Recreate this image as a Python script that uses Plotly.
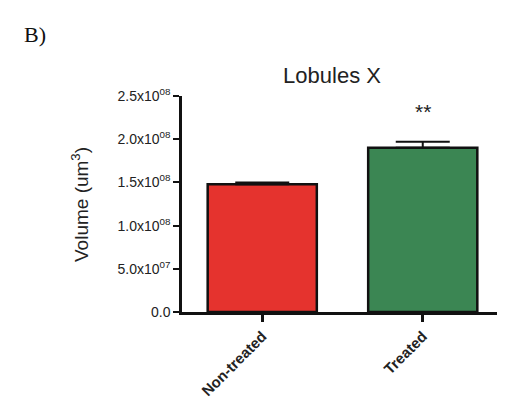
import plotly.graph_objects as go

categories = ["Non-treated", "Treated"]
values = [1.48e8, 1.90e8]
errors = [2.0e6, 7.0e6]
bar_colors = ["#E5332E", "#3B8653"]
tick_vals = [0, 5.0e7, 1.0e8, 1.5e8, 2.0e8, 2.5e8]
tick_text = ["0.0", "5.0x10<sup>07</sup>", "1.0x10<sup>08</sup>", "1.5x10<sup>08</sup>",
             "2.0x10<sup>08</sup>", "2.5x10<sup>08</sup>"]
significance = ["", "**"]

# page is drawn with the browser's 8px body margin, so figure coords = page coords - 8
W, H = 497, 393
L, R, T, B = 174, 2, 88, 89
PW, PH = W - L - R, H - T - B

fig = go.Figure()
fig.add_trace(go.Bar(
    x=categories, y=values,
    marker=dict(color=bar_colors, line=dict(color="#111111", width=2.5)),
    width=0.68,
    error_y=dict(type="data", array=errors, arrayminus=[0 for _ in errors], visible=True,
                 color="#111111", thickness=2, width=27),
    showlegend=False,
))

for c, v, e, s in zip(categories, values, errors, significance):
    if s:
        fig.add_annotation(x=c, y=v + e, text=s, showarrow=False, yshift=30,
                           font=dict(family="Liberation Sans, Arial", size=21, color="#222222"))

fig.add_annotation(xref="x domain", yref="y domain", x=(14 - L) / PW, y=(T + PH - 27) / PH,
                   xanchor="left", yanchor="middle", text="B)", showarrow=False,
                   font=dict(family="Liberation Serif, Times New Roman", size=22, color="#111111"))

fig.add_annotation(xref="x domain", yref="y domain", x=(72 - L) / PW, y=(T + PH - 197) / PH,
                   xanchor="center", yanchor="middle", text="Volume (um<sup>3</sup>)", textangle=-90,
                   showarrow=False, font=dict(family="Liberation Sans, Arial", size=19, color="#222222"))

fig.update_layout(
    width=W, height=H,
    margin=dict(l=L, r=R, t=T, b=B, autoexpand=False),
    paper_bgcolor="white", plot_bgcolor="white",
    font=dict(family="Liberation Sans, Arial", color="#222222"),
    title=dict(text="Lobules X", x=324 / W, xanchor="center", y=1 - 67 / H, yanchor="middle",
               font=dict(size=22, color="#222222")),
    xaxis=dict(range=[-0.5, 1.5], showline=True, linecolor="#111111", linewidth=2.5,
               ticks="outside", ticklen=7, tickwidth=2.5, tickcolor="#111111",
               tickangle=-45, tickfont=dict(size=15, color="#222222", family="Liberation Sans, Arial", weight="bold"),
               showgrid=False, zeroline=False),
    yaxis=dict(range=[0, 2.5e8], showline=True, linecolor="#111111", linewidth=2.5,
               ticks="outside", ticklen=6, tickwidth=2, tickcolor="#111111",
               tickvals=tick_vals, ticktext=tick_text, tickfont=dict(size=14, color="#222222"),
               showgrid=False, zeroline=False),
)

fig.write_html("out.html")
